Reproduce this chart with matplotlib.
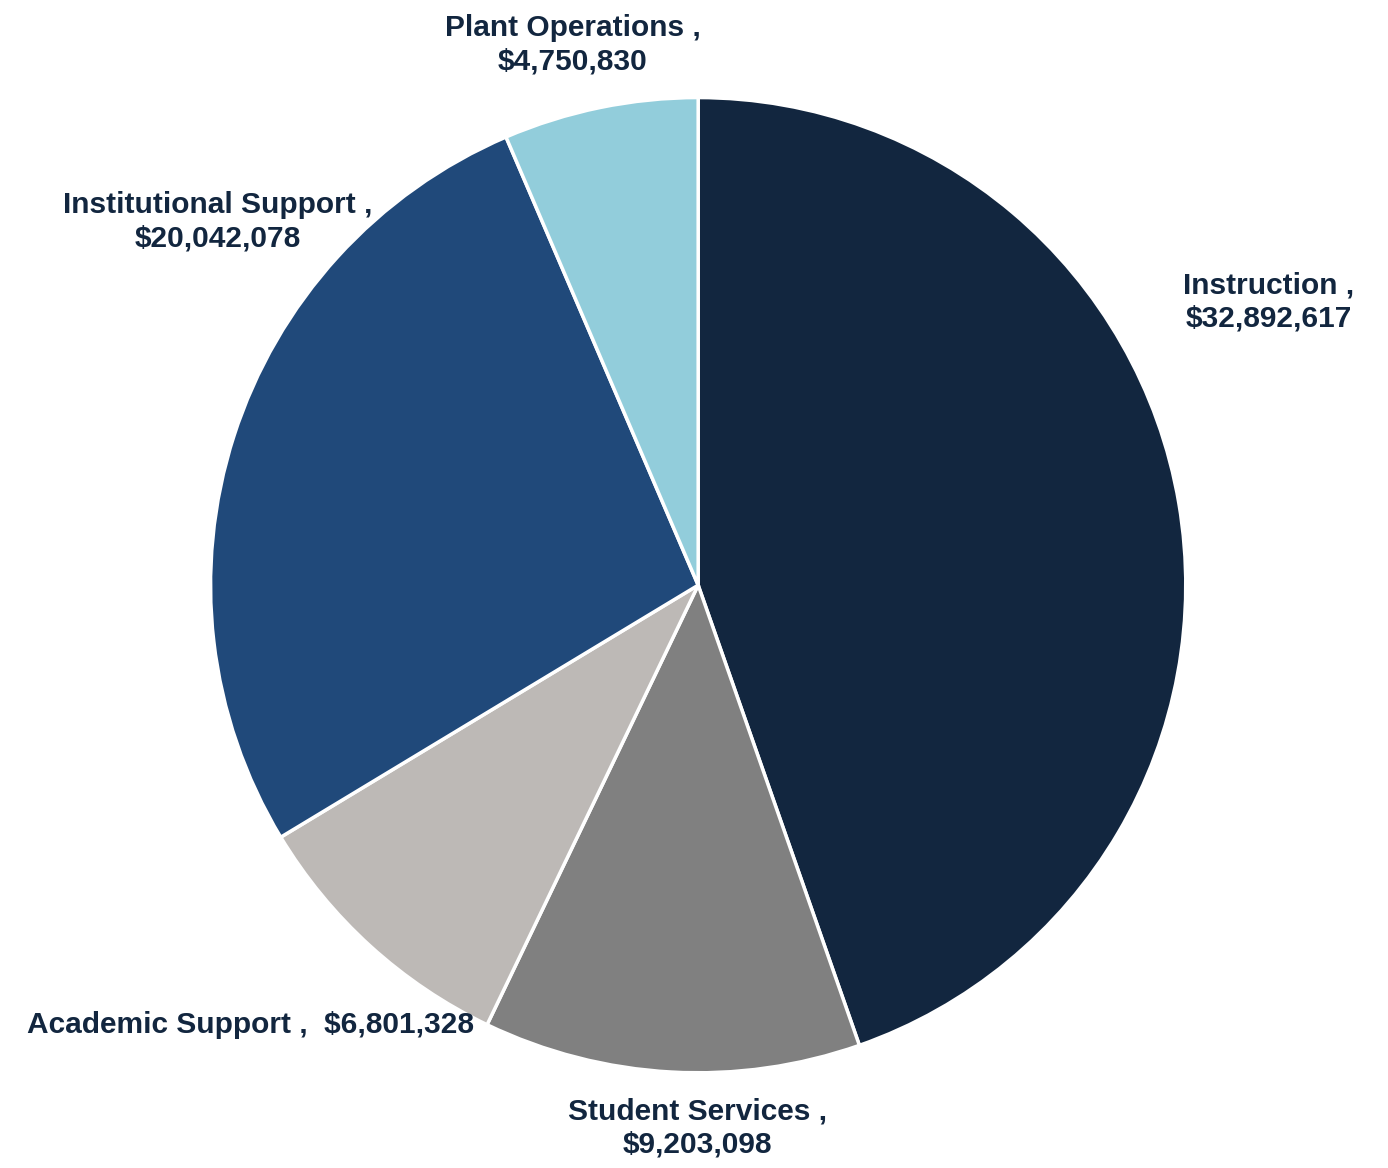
import matplotlib
matplotlib.use("Agg")
import matplotlib.pyplot as plt

categories = ["Instruction", "Student Services", "Academic Support",
              "Institutional Support", "Plant Operations"]
amounts = [32892617, 9203098, 6801328, 20042078, 4750830]
colors = ["#12263F", "#808080", "#BDB9B6", "#20497A", "#92CDDB"]

plt.rcParams['font.family'] = ['Liberation Sans', 'DejaVu Sans']

fig = plt.figure(figsize=(13.88, 11.68), dpi=100)
ax = fig.add_axes([0.503 - 0.3513, 0.499 - 0.4175, 0.7026, 0.8350])
ax.pie(amounts, colors=colors, startangle=90, counterclock=False,
       wedgeprops=dict(edgecolor="white", linewidth=2.5))
ax.set_xlim(-1, 1)
ax.set_ylim(-1, 1)
ax.set_aspect("equal")

# label spots in pie-radius units
label_pos = {
    "Instruction": (1.170, 0.581),
    "Student Services": (-0.002, -1.113),
    "Academic Support": (-0.919, -0.903),
    "Institutional Support": (-0.986, 0.745),
    "Plant Operations": (-0.257, 1.109),
}
for name, amt in zip(categories, amounts):
    if name == "Academic Support":
        txt = f"{name} ,  ${amt:,}"
    else:
        txt = f"{name} ,\n${amt:,}"
    x, y = label_pos[name]
    ax.text(x, y, txt, ha="center", va="center", fontsize=21.5,
            fontweight="bold", color="#12263F", linespacing=1.25,
            clip_on=False)

fig.savefig("out.png", dpi=100)
